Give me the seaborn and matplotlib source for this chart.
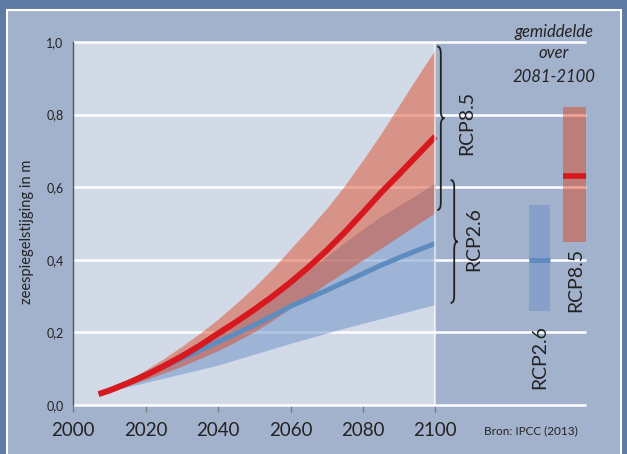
import numpy as np
import pandas as pd
import seaborn as sns
import matplotlib.pyplot as plt
from matplotlib.patches import Rectangle, PathPatch
from matplotlib.path import Path

sns.set_style("white")
plt.rcParams['font.family'] = ['Lato', 'DejaVu Sans']

# Projected global sea level rise (m), IPCC AR5
years = [2007, 2010, 2015, 2020, 2025, 2030, 2035, 2040, 2045, 2050,
         2055, 2060, 2065, 2070, 2075, 2080, 2085, 2090, 2095, 2100]
rcp85_mean = [0.030, 0.040, 0.060, 0.082, 0.107, 0.134, 0.164, 0.197, 0.229, 0.263,
              0.299, 0.338, 0.380, 0.426, 0.476, 0.530, 0.585, 0.636, 0.688, 0.740]
rcp85_low = [0.030, 0.037, 0.053, 0.070, 0.088, 0.107, 0.128, 0.150, 0.175, 0.202,
             0.233, 0.267, 0.300, 0.335, 0.367, 0.400, 0.432, 0.465, 0.498, 0.530]
rcp85_high = [0.030, 0.043, 0.068, 0.097, 0.128, 0.162, 0.198, 0.237, 0.280, 0.325,
              0.375, 0.430, 0.485, 0.542, 0.605, 0.675, 0.748, 0.826, 0.904, 0.980]
rcp26_mean = [0.030, 0.041, 0.061, 0.083, 0.105, 0.128, 0.151, 0.174, 0.197, 0.220,
              0.245, 0.272, 0.294, 0.316, 0.339, 0.362, 0.385, 0.406, 0.426, 0.445]
rcp26_low = [0.030, 0.038, 0.050, 0.062, 0.074, 0.086, 0.098, 0.110, 0.125, 0.140,
             0.155, 0.170, 0.184, 0.198, 0.212, 0.225, 0.238, 0.251, 0.264, 0.277]
rcp26_high = [0.030, 0.043, 0.068, 0.094, 0.120, 0.147, 0.175, 0.204, 0.234, 0.266,
              0.300, 0.336, 0.373, 0.410, 0.448, 0.485, 0.520, 0.550, 0.580, 0.613]

# Mean over 2081-2100 with likely range
avg_scenarios = ["RCP2.6", "RCP8.5"]
avg_mean = [0.40, 0.63]
avg_low = [0.26, 0.45]
avg_high = [0.55, 0.82]

xticks = [2000, 2020, 2040, 2060, 2080, 2100]
yticks = [0.0, 0.2, 0.4, 0.6, 0.8, 1.0]
ytick_labels = ["0,0", "0,2", "0,4", "0,6", "0,8", "1,0"]

RED = "#d7191f"
RED_BAND = "#dd3d14"
BLUE = "#5f8cbe"
BLUE_BAND = "#6a8fc8"
PANEL = "#a3b2cc"
FRAME = "#5f7aa3"
LIGHT = "#d3dae7"
INK = "#222222"

W, H = 627, 454
fig = plt.figure(figsize=(W / 100, H / 100), dpi=100)
fig.patch.set_facecolor(FRAME)


def px(x, y):
    return x / W, 1 - y / H


fig.patches.append(Rectangle((7 / W, -0.05), (621 - 7) / W, 1 - 10 / H + 0.05,
                             transform=fig.transFigure, facecolor=PANEL,
                             edgecolor="white", lw=1.5, zorder=-10))

ax = fig.add_axes([73.3 / W, 49 / H, (586 - 73.3) / W, 363 / H])
ax.set_facecolor("none")
ax.set_xlim(2000, 2141.6)
ax.set_ylim(0, 1)

ax.axvspan(2000, 2100, color=LIGHT, lw=0, zorder=0)
ax.hlines(yticks, 2000, 2141.6, color="white", lw=1.8, zorder=1, clip_on=False)

ax.fill_between(years, rcp26_low, rcp26_high, color=BLUE_BAND, alpha=0.5, lw=0, zorder=2)
ax.fill_between(years, rcp85_low, rcp85_high, color=RED_BAND, alpha=0.45, lw=0, zorder=3)

df = pd.DataFrame({
    "jaar": years * 2,
    "stijging": rcp26_mean + rcp85_mean,
    "scenario": ["RCP2.6"] * len(years) + ["RCP8.5"] * len(years),
})
sns.lineplot(data=df[df.scenario == "RCP2.6"], x="jaar", y="stijging", color=BLUE,
             lw=3.6, ax=ax, zorder=4, solid_capstyle="butt")
sns.lineplot(data=df[df.scenario == "RCP8.5"], x="jaar", y="stijging", color=RED,
             lw=4.3, ax=ax, zorder=5, solid_capstyle="butt")

ax.axvline(2100, color="white", alpha=0.6, lw=1.5, zorder=6)

# 2081-2100 averages as range bars with a mean marker
bar_x = [2128.8, 2138.45]
bar_w = [5.8, 6.3]
bar_colors = [BLUE_BAND, RED_BAND]
bar_alpha = [0.5, 0.45]
mean_colors = [BLUE, RED]
mean_lw = [3.6, 4.1]
for i in range(2):
    ax.bar(bar_x[i], avg_high[i] - avg_low[i], bottom=avg_low[i], width=bar_w[i],
           color=bar_colors[i], alpha=bar_alpha[i], lw=0, zorder=3)
    ax.hlines(avg_mean[i], bar_x[i] - bar_w[i] / 2, bar_x[i] + bar_w[i] / 2,
              color=mean_colors[i], lw=mean_lw[i], zorder=5)


def brace(x, y0, y1, ymid, w=1.0, r=0.02):
    verts = [(x - w, y1), (x, y1), (x, y1 - r),
             (x, ymid + r), (x, ymid), (x + w, ymid),
             (x, ymid), (x, ymid - r),
             (x, y0 + r), (x, y0), (x - w, y0)]
    codes = [Path.MOVETO, Path.CURVE3, Path.CURVE3,
             Path.LINETO, Path.CURVE3, Path.CURVE3,
             Path.CURVE3, Path.CURVE3,
             Path.LINETO, Path.CURVE3, Path.CURVE3]
    ax.add_patch(PathPatch(Path(verts, codes), fill=False, lw=1.3,
                           edgecolor=INK, clip_on=False, zorder=7))


brace(2101.5, 0.537, 0.988, 0.79)
brace(2105.2, 0.281, 0.62, 0.45)

for s in ["top", "right", "bottom"]:
    ax.spines[s].set_visible(False)
ax.spines["left"].set_color("#555555")
ax.spines["left"].set_linewidth(1)

ax.set_xticks(xticks)
ax.set_xticklabels([str(t) for t in xticks])
ax.set_yticks(yticks)
ax.set_yticklabels(ytick_labels)
ax.tick_params(axis="x", length=5, width=1, color="#777777", labelsize=13.5,
               pad=7, labelcolor=INK, bottom=True)
ax.tick_params(axis="y", length=0, labelsize=9, pad=7, labelcolor=INK)
ax.set_xlabel("")
ax.set_ylabel("")

fig.text(*px(27, 232), "zeespiegelstijging in m", rotation=90, ha="center",
         va="center", fontsize=10.5, color=INK)

fig.text(*px(467, 123), "RCP8.5", rotation=90, ha="center", va="center",
         fontsize=14, color=INK)
fig.text(*px(474, 239), "RCP2.6", rotation=90, ha="center", va="center",
         fontsize=14, color=INK)
fig.text(*px(539.5, 357), "RCP2.6", rotation=90, ha="center", va="center",
         fontsize=14, color=INK)
fig.text(*px(575.5, 280), "RCP8.5", rotation=90, ha="center", va="center",
         fontsize=14, color=INK)

for label, y in [("gemiddelde", 32), ("over", 53), ("2081-2100", 77)]:
    fig.text(*px(554, y), label, ha="center", va="center", fontsize=12,
             style="italic", color=INK)

fig.text(*px(531, 431), "Bron: IPCC (2013)", ha="center", va="center",
         fontsize=8.5, color=INK)

fig.savefig("out.png", dpi=100, facecolor=fig.get_facecolor())
